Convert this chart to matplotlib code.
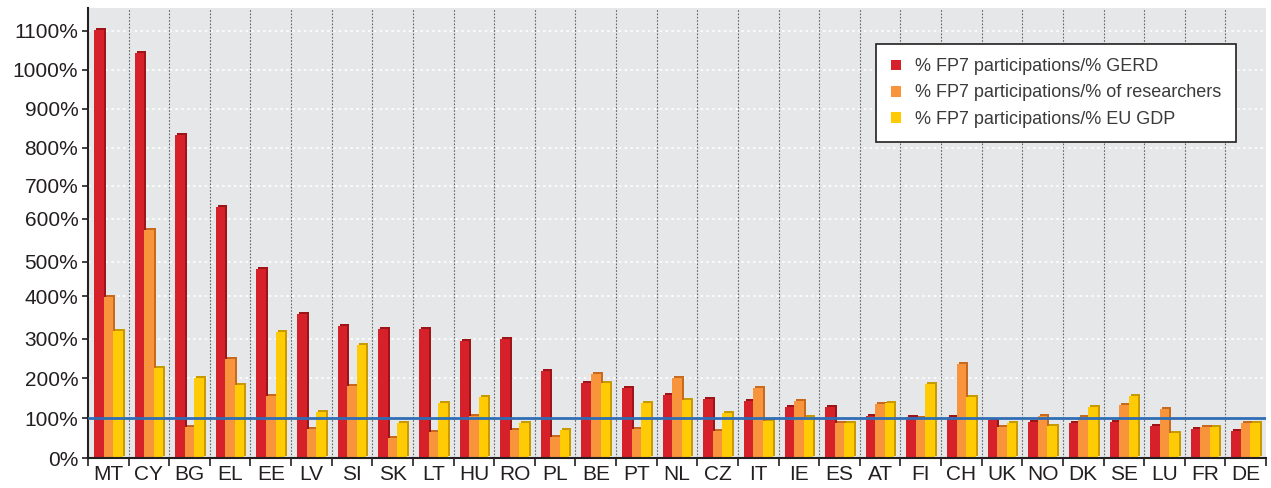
import numpy as np
import matplotlib
matplotlib.use('Agg')
import matplotlib.pyplot as plt
import matplotlib.transforms as mtransforms
from matplotlib.patches import Patch

# data
countries = ['MT', 'CY', 'BG', 'EL', 'EE', 'LV', 'SI', 'SK', 'LT', 'HU', 'RO', 'PL', 'BE', 'PT', 'NL',
             'CZ', 'IT', 'IE', 'ES', 'AT', 'FI', 'CH', 'UK', 'NO', 'DK', 'SE', 'LU', 'FR', 'DE']
gerd = [1103, 1043, 833, 636, 479, 358, 330, 323, 323, 295, 300, 218, 188, 175, 158,
        148, 143, 128, 128, 105, 103, 103, 95, 90, 88, 90, 80, 73, 68]
researchers = [398, 574, 77, 249, 155, 73, 180, 50, 65, 105, 70, 53, 210, 72, 200,
               68, 175, 143, 88, 135, 100, 236, 78, 105, 103, 133, 123, 78, 88]
gdp = [318, 226, 200, 182, 316, 115, 285, 88, 138, 152, 88, 70, 188, 138, 145,
       113, 93, 103, 88, 138, 185, 152, 88, 80, 128, 155, 63, 78, 88]
series_labels = ['% FP7 participations/% GERD',
                 '% FP7 participations/% of researchers',
                 '% FP7 participations/% EU GDP']

# the printed y axis is not evenly spaced: tick value -> pixel height above 0%
tick_vals = [0, 100, 200, 300, 400, 500, 600, 700, 800, 900, 1000, 1100]
tick_h = [0, 40, 80, 119, 162, 196, 239, 272, 310, 349, 388, 427]
map_v = np.array([-100] + tick_vals + [1200], dtype=float)
map_h = np.array([-40] + tick_h + [466], dtype=float)


def fwd(v):
    return np.interp(v, map_v, map_h)


def inv(h):
    return np.interp(h, map_h, map_v)


colors = ['#D6202A', '#F7943C', '#FFCB05']
dark = ['#9E1519', '#C86A1E', '#C99A00']

plt.rcParams['font.family'] = ['Liberation Sans', 'DejaVu Sans']

fig = plt.figure(figsize=(12.71, 4.88), dpi=100)
ax = fig.add_axes([88 / 1271, 1 - 458 / 488, (1266 - 88) / 1271, 450 / 488])
ax.set_facecolor('#E6E7E8')
ax.set_yscale('function', functions=(fwd, inv))

x = np.arange(len(countries))
w = 0.235
shift = mtransforms.ScaledTranslation(2 / 100, 2 / 100, fig.dpi_scale_trans)
for i, vals in enumerate([gerd, researchers, gdp]):
    pos = x + (i - 1) * w
    # darker copy behind gives the extruded edge
    ax.bar(pos, vals, w, color=dark[i], transform=ax.transData + shift, zorder=3 + i * 2)
    ax.bar(pos, vals, w, color=colors[i], zorder=4 + i * 2)

ax.axhline(100, color='#2F6DB5', lw=2, zorder=10)

ax.set_xlim(-0.5, len(countries) - 0.5)
ax.set_ylim(0, inv(450))

ax.set_yticks(tick_vals)
ax.set_yticklabels([f'{v}%' for v in tick_vals], fontsize=15, color='#231F20')
ax.set_xticks(x)
ax.set_xticklabels(countries, fontsize=15, color='#231F20')
ax.set_xticks(np.arange(len(countries) + 1) - 0.5, minor=True)
ax.tick_params(axis='x', which='major', length=0, pad=5)
ax.tick_params(axis='x', which='minor', length=6, width=1.2, direction='out', color='#231F20')
ax.tick_params(axis='y', length=4, width=1.2, direction='out', color='#231F20', pad=3)

# grid: white dotted horizontals, dark dotted verticals at country boundaries
for v in tick_vals[1:]:
    ax.axhline(v, color='white', lw=1.2, ls=(0, (1.5, 2)), zorder=1)
for b in np.arange(1, len(countries)) - 0.5:
    ax.axvline(b, color='#666666', lw=0.8, ls=(0, (1.5, 1.5)), zorder=2)

for side in ['top', 'right']:
    ax.spines[side].set_visible(False)
ax.spines['left'].set_linewidth(1.5)
ax.spines['bottom'].set_linewidth(1.5)
ax.spines['left'].set_color('#231F20')
ax.spines['bottom'].set_color('#231F20')
ax.spines['bottom'].set_zorder(12)

handles = [Patch(facecolor=c, edgecolor='none') for c in colors]
leg = ax.legend(handles, series_labels, loc='upper right', bbox_to_anchor=(0.9745, 0.92),
                fontsize=13, frameon=True, fancybox=False, edgecolor='#231F20', framealpha=1,
                handlelength=0.55, handleheight=0.55, handletextpad=0.8, borderaxespad=0,
                labelspacing=0.5, borderpad=0.8, labelcolor='#3A3A3A')
leg.get_frame().set_linewidth(1.2)
leg.set_zorder(20)

fig.savefig('out.png', dpi=100)
